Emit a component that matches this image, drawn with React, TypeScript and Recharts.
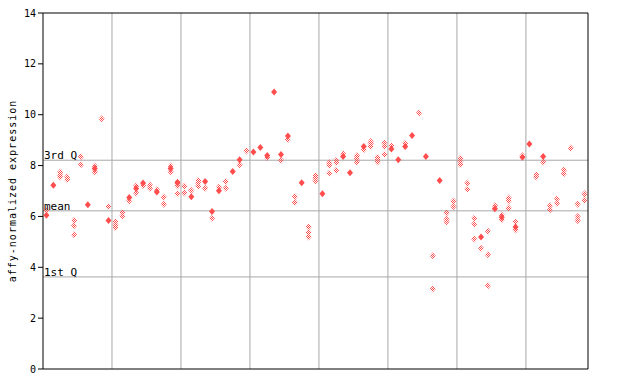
import {
  ScatterChart,
  Scatter,
  XAxis,
  YAxis,
  ReferenceLine,
} from "recharts";

// one entry per sample column, solid and hatched replicate markers
const solidVals: number[][] = [
  [6.05], [7.23], [], [], [], [], [6.46], [7.88], [], [5.84],
  [], [], [6.74], [7.1], [7.31], [], [6.96], [], [7.88], [7.31],
  [], [6.77], [], [7.37], [6.19], [7.01], [], [7.77], [8.23], [],
  [8.53], [8.71], [8.4], [10.89], [8.44], [9.16], [], [7.32], [], [],
  [6.89], [], [], [8.36], [7.72], [], [8.75], [], [], [],
  [8.65], [8.23], [8.75], [9.18], [], [8.36], [], [7.41], [], [],
  [], [], [], [5.19], [], [6.3], [5.97], [], [5.58], [8.33],
  [8.85], [], [8.36], [], [], [], [], [], [],
];

const hatchedVals: number[][] = [
  [6.25], [], [7.75, 7.62, 7.55], [7.55, 7.45], [5.84, 5.63, 5.28], [8.35, 8.03], [], [7.98, 7.76], [9.84], [6.39],
  [5.79, 5.67, 5.55], [6.15, 6.02], [6.62], [7.2, 6.92], [7.22], [7.24, 7.11], [7.05], [6.76, 6.48], [7.98, 7.76], [7.37, 7.2, 6.89],
  [7.2, 6.92], [7.02], [7.41, 7.31, 7.2], [7.11], [5.93], [7.15], [7.37, 7.11], [], [8.03], [8.57],
  [], [], [8.31], [], [8.21], [9.03], [6.77, 6.56], [], [5.58, 5.38, 5.19], [7.61, 7.51, 7.4],
  [], [8.11, 8.02, 7.7], [8.21, 8.12, 7.82], [8.46], [], [8.39, 8.27, 8.14], [8.62], [8.95, 8.87, 8.75], [8.33, 8.23, 8.14], [8.88, 8.75, 8.45],
  [8.78], [], [8.88], [], [10.07], [], [4.45, 3.15], [], [6.13, 5.89, 5.79], [6.61, 6.39],
  [8.29, 8.16, 8.03], [7.31, 7.07], [5.93, 5.7, 5.11], [4.75], [5.42, 4.49, 3.27], [6.42], [6.06, 5.87], [6.72, 6.61, 6.33], [5.79, 5.47], [8.39],
  [], [7.64, 7.55], [8.14], [6.42, 6.26], [6.69, 6.52], [7.83, 7.68], [8.69], [6.48, 6.0, 5.84], [6.89, 6.65],
];

const yTicks = [0, 2, 4, 6, 8, 10, 12, 14];
const groupTicks = [10, 20, 30, 40, 50, 60, 70];
const qNames = ["3rd Q", "mean", "1st Q"];
const qValues = [8.21, 6.22, 3.62];

const RED = "#ff4d4d";
const GRID = "#a8a8a8";
const MONO = "'DejaVu Sans Mono', monospace";

const toPoints = (cols: number[][]) =>
  cols.flatMap((vals, i) => vals.map((v) => ({ x: i + 0.5, y: v })));

const solidPoints = toPoints(solidVals);
const hatchedPoints = toPoints(hatchedVals);

function Diamond(props: any) {
  const { cx, cy, fill } = props;
  if (cx == null || cy == null) return <g />;
  const w = 3;
  const h = 3.5;
  return (
    <polygon
      points={`${cx},${cy - h} ${cx + w},${cy} ${cx},${cy + h} ${cx - w},${cy}`}
      fill={fill}
    />
  );
}

export default function App() {
  return (
    <div style={{ position: "absolute", left: 0, top: 0, background: "#fff" }}>
      <ScatterChart
        width={640}
        height={384}
        margin={{ top: 13, right: 52, bottom: 0, left: 0 }}
      >
        <defs>
          <pattern
            id="checker"
            patternUnits="userSpaceOnUse"
            width={2}
            height={2}
          >
            <rect x={0} y={0} width={1} height={1} fill={RED} />
            <rect x={1} y={1} width={1} height={1} fill={RED} />
          </pattern>
        </defs>
        <XAxis
          type="number"
          dataKey="x"
          domain={[0, 79]}
          ticks={groupTicks}
          tick={false}
          tickLine={false}
          axisLine={{ stroke: "#000" }}
          height={15}
        />
        <YAxis
          yAxisId="left"
          type="number"
          dataKey="y"
          domain={[0, 14]}
          ticks={yTicks}
          width={43}
          tickSize={5}
          tickLine={{ stroke: "#000" }}
          axisLine={{ stroke: "#000" }}
          tick={{ fontSize: 10, fontFamily: MONO, fill: "#000" }}
          label={() => (
            <text
              x={12}
              y={191}
              transform="rotate(-90, 12, 191)"
              textAnchor="middle"
              dominantBaseline="central"
              fontSize={10}
              fontFamily={MONO}
              letterSpacing={1}
              fill="#000"
            >
              affy-normalized expression
            </text>
          )}
        />
        <YAxis
          yAxisId="right"
          orientation="right"
          type="number"
          domain={[0, 14]}
          ticks={yTicks}
          mirror
          tickSize={5}
          tickLine={{ stroke: "#000" }}
          axisLine={{ stroke: "#000" }}
          tick={() => <g />}
        />
        {groupTicks.map((g) => (
          <ReferenceLine key={g} yAxisId="left" x={g} stroke={GRID} />
        ))}
        <ReferenceLine yAxisId="left" y={14} stroke="#000" />
        {qValues.map((v, i) => (
          <ReferenceLine
            key={qNames[i]}
            yAxisId="left"
            y={v}
            stroke={GRID}
            label={{
              value: qNames[i],
              position: "insideBottomLeft",
              offset: 1,
              fontSize: 11,
              fontFamily: MONO,
              fill: "#000",
            }}
          />
        ))}
        <Scatter
          yAxisId="left"
          data={hatchedPoints}
          fill="url(#checker)"
          shape={<Diamond />}
          isAnimationActive={false}
        />
        <Scatter
          yAxisId="left"
          data={solidPoints}
          fill={RED}
          shape={<Diamond />}
          isAnimationActive={false}
        />
      </ScatterChart>
    </div>
  );
}
